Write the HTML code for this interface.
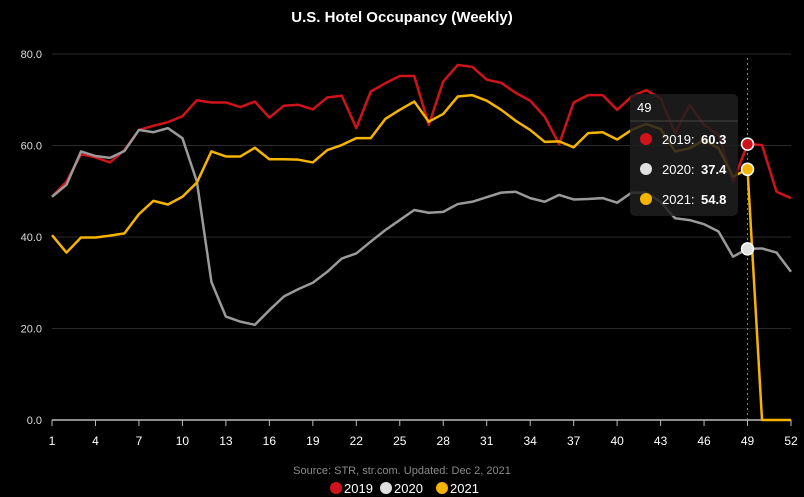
<!DOCTYPE html>
<html><head><meta charset="utf-8"><style>
body{margin:0;background:#000;width:804px;height:497px;overflow:hidden;font-family:"Liberation Sans",sans-serif}
svg{display:block}
</style></head><body>
<svg id="c" width="804" height="497">
<text x="402" y="22" text-anchor="middle" fill="#fff" font-size="15" font-weight="bold">U.S. Hotel Occupancy (Weekly)</text>
<g id="grid"></g><g id="lines"></g><g id="xa"></g>
<text x="402" y="474" text-anchor="middle" fill="#8a8a8a" font-size="11">Source: STR, str.com. Updated: Dec 2, 2021</text>
<g>
<g><circle cx="336" cy="488" r="6" fill="#d0121b"/><text x="344" y="493" fill="#fff" font-size="13">2019</text></g>
<g><circle cx="386" cy="488" r="6" fill="#e0e0e0"/><text x="394" y="493" fill="#fff" font-size="13">2020</text></g>
<g><circle cx="442" cy="488" r="6" fill="#f5b400"/><text x="450" y="493" fill="#fff" font-size="13">2021</text></g>
</g>
<g id="tip"></g>
</svg>
<script>
const weeks=Array.from({length:52},(_,i)=>i+1);
const yTicks=[0,20,40,60,80];
const xTicks=[1,4,7,10,13,16,19,22,25,28,31,34,37,40,43,46,49,52];
const s2019=[48.8,52.1,58.1,57.4,56.3,59,63.4,64.3,65.1,66.4,69.9,69.4,69.4,68.4,69.6,66.1,68.7,68.9,67.9,70.5,70.9,63.8,71.8,73.6,75.2,75.2,64.5,74,77.6,77.2,74.4,73.7,71.5,69.8,66.3,60.3,69.4,71,71,67.8,70.7,72.1,70.3,62.7,68.9,64.5,62.3,52.1,60.3,60.1,49.9,48.5];
const s2020=[48.8,51.4,58.7,57.7,57.3,58.8,63.4,62.9,63.8,61.6,52.1,30.2,22.6,21.5,20.8,24,27,28.6,30,32.4,35.3,36.4,39,41.5,43.7,45.9,45.3,45.5,47.2,47.7,48.7,49.7,49.9,48.5,47.7,49.2,48.2,48.3,48.5,47.5,49.7,49.7,47.7,44.1,43.7,42.8,41.2,35.7,37.4,37.5,36.6,32.4];
const s2021=[40.4,36.6,39.9,39.9,40.3,40.8,45,47.9,47.1,48.8,51.9,58.7,57.6,57.6,59.5,57,57,56.9,56.3,59,60.1,61.6,61.6,65.8,67.8,69.6,65.2,66.9,70.7,71,69.8,67.8,65.4,63.4,60.8,60.9,59.6,62.7,62.9,61.3,63.4,64.7,63.6,58.7,59.4,61.2,59.4,53.2,54.8,0,0,0];
const hoverWeek=49;
const NS="http://www.w3.org/2000/svg";
const X=w=>52+(w-1)*(791-52)/51, Y=v=>420-v*(420-54)/80;
function mk(t,a,p){const e=document.createElementNS(NS,t);for(const k in a)e.setAttribute(k,a[k]);p.appendChild(e);return e;}
const G=document.getElementById('grid');
yTicks.forEach(v=>{
 const l=mk('line',{x1:52,x2:791,y1:Y(v),y2:Y(v),stroke:v?'#2a2a2a':'#bbb','stroke-width':v?1:1.5},G);
 
 
 const t=mk('text',{x:42,y:Y(v)+4,'text-anchor':'end',fill:'#ddd','font-size':11},G);t.textContent=v.toFixed(1);
 
 
});
const XA=document.getElementById('xa');
xTicks.forEach(w=>{
 mk('line',{x1:X(w),x2:X(w),y1:420,y2:426,stroke:'#bbb'},XA);
 const t=mk('text',{x:X(w),y:445,'text-anchor':'middle',fill:'#fff','font-size':12},XA);t.textContent=w;
 
 
});
const L=document.getElementById('lines');
const dl=mk('line',{x1:X(hoverWeek),x2:X(hoverWeek),y1:58,y2:420,stroke:'#888','stroke-dasharray':'2,3'},L);


const series=[[s2019,'#d0121b','2019'],[s2020,'#9a9a9a','2020'],[s2021,'#f5b400','2021']];
series.forEach(([d,c,n])=>{
 const p=mk('polyline',{points:d.map((v,i)=>X(weeks[i])+','+Y(v)).join(' '),fill:'none',stroke:c,'stroke-width':2.5,'stroke-linejoin':'round'},L);
 
 
});
const T=document.getElementById('tip');
const box=mk('rect',{x:630,y:94,width:108,height:122,rx:5,fill:'rgba(30,30,30,0.85)'},T);


const tt=mk('text',{x:637,y:112,fill:'#fff','font-size':13},T);tt.textContent=hoverWeek;
mk('line',{x1:630,x2:738,y1:121,y2:121,stroke:'#444'},T);
const tipC=['#d0121b','#e0e0e0','#f5b400'];
series.forEach(([d,c,n],i)=>{
 const y=139+i*30;
 mk('circle',{cx:646,cy:y,r:6,fill:tipC[i]},T);
 const a=mk('text',{x:662,y:y+5,fill:'#fff','font-size':13},T);a.textContent=n+':';
 const b=mk('text',{x:701,y:y+5,fill:'#fff','font-size':13,'font-weight':'bold'},T);b.textContent=d[hoverWeek-1].toFixed(1);
 const m=mk('circle',{cx:X(hoverWeek),cy:Y(d[hoverWeek-1]),r:6,fill:tipC[i],stroke:'#fff','stroke-width':1.5},T);
 
 
});
</script>
</body></html>
